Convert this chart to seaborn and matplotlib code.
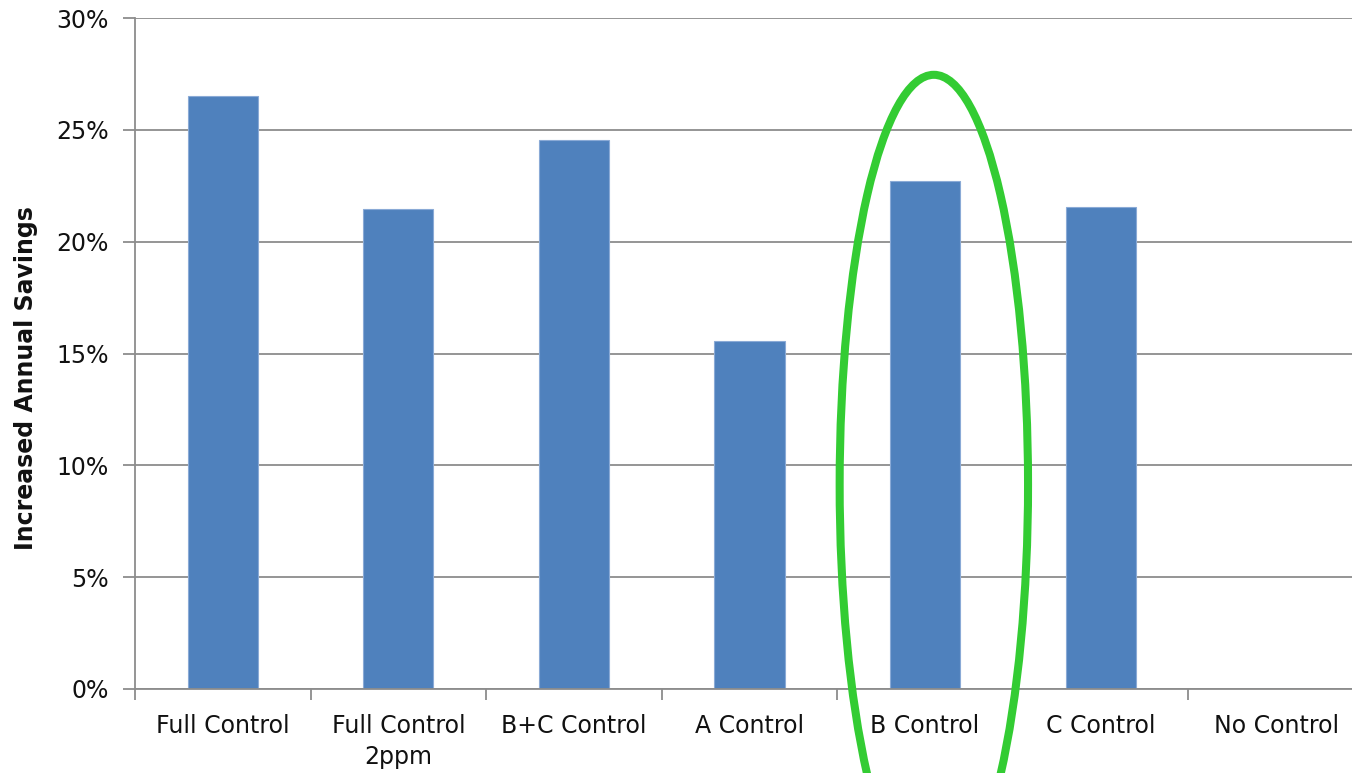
import matplotlib
matplotlib.use("Agg")
import matplotlib.pyplot as plt
from matplotlib.patches import Ellipse
from matplotlib.ticker import FuncFormatter, FixedLocator
import seaborn as sns
import pandas as pd

# Control strategies and their increase in annual savings (%)
categories = ["Full Control", "Full Control\n2ppm", "B+C Control", "A Control",
              "B Control", "C Control", "No Control"]
savings_pct = [26.5, 21.45, 24.55, 15.55, 22.7, 21.55, 0.0]
y_ticks = [0, 5, 10, 15, 20, 25, 30]

# Highlight around the "B Control" bar (centre/size in category and % units)
highlight_center = (4.05, 9.13)
highlight_size = (1.073, 36.66)

sns.set_style("white")
plt.rcParams["font.family"] = ["DejaVu Sans"]

df = pd.DataFrame({"strategy": categories, "savings": savings_pct})

fig = plt.figure(figsize=(13.52, 7.73), dpi=100)
ax = fig.add_axes([135 / 1352, 1 - 689 / 773, 1229 / 1352, 671 / 773])

grid_color = "#8c8c8c"
sns.barplot(data=df, x="strategy", y="savings", ax=ax, color="#4F81BD",
            saturation=1, width=0.40, edgecolor="#8aaad6", linewidth=0.8,
            zorder=3)

ax.set_xlim(-0.5, len(categories) - 0.5)
ax.set_ylim(0, 30)
ax.yaxis.set_major_locator(FixedLocator(y_ticks))
ax.yaxis.set_major_formatter(FuncFormatter(lambda v, _: f"{v:.0f}%"))
ax.yaxis.grid(True, color=grid_color, linewidth=1.3, zorder=0)
ax.xaxis.grid(False)
ax.set_axisbelow(True)

# category labels centred without marks; boundary marks between categories
ax.set_xticks(range(len(categories)))
ax.set_xticklabels(categories, fontsize=17, color="#111111", linespacing=1.35)
ax.set_xticks([i + 0.5 for i in range(-1, len(categories) - 1)], minor=True)
ax.tick_params(axis="x", which="major", length=0, pad=18)
ax.tick_params(axis="x", which="minor", length=8, width=1.3, color=grid_color,
               direction="out")
ax.tick_params(axis="y", which="major", length=9, width=1.3, color=grid_color,
               direction="out", pad=10, labelsize=17, labelcolor="#111111")
ax.tick_params(bottom=True, left=True, which="both")

ax.set_xlabel("")
ax.set_ylabel("Increased Annual Savings", fontsize=17, fontweight="bold",
              color="#111111")
ax.yaxis.set_label_coords((38 - 135) / 1229, (689 - 378) / 671)

for side in ["top", "right"]:
    ax.spines[side].set_visible(False)
for side in ["left", "bottom"]:
    ax.spines[side].set_color(grid_color)
    ax.spines[side].set_linewidth(1.3)
    ax.spines[side].set_zorder(4)

ell = Ellipse(highlight_center, highlight_size[0], highlight_size[1],
              fill=False, edgecolor="#33CC33", linewidth=5.8, zorder=5,
              clip_on=False)
ax.add_patch(ell)

fig.savefig("out.png", dpi=100)
